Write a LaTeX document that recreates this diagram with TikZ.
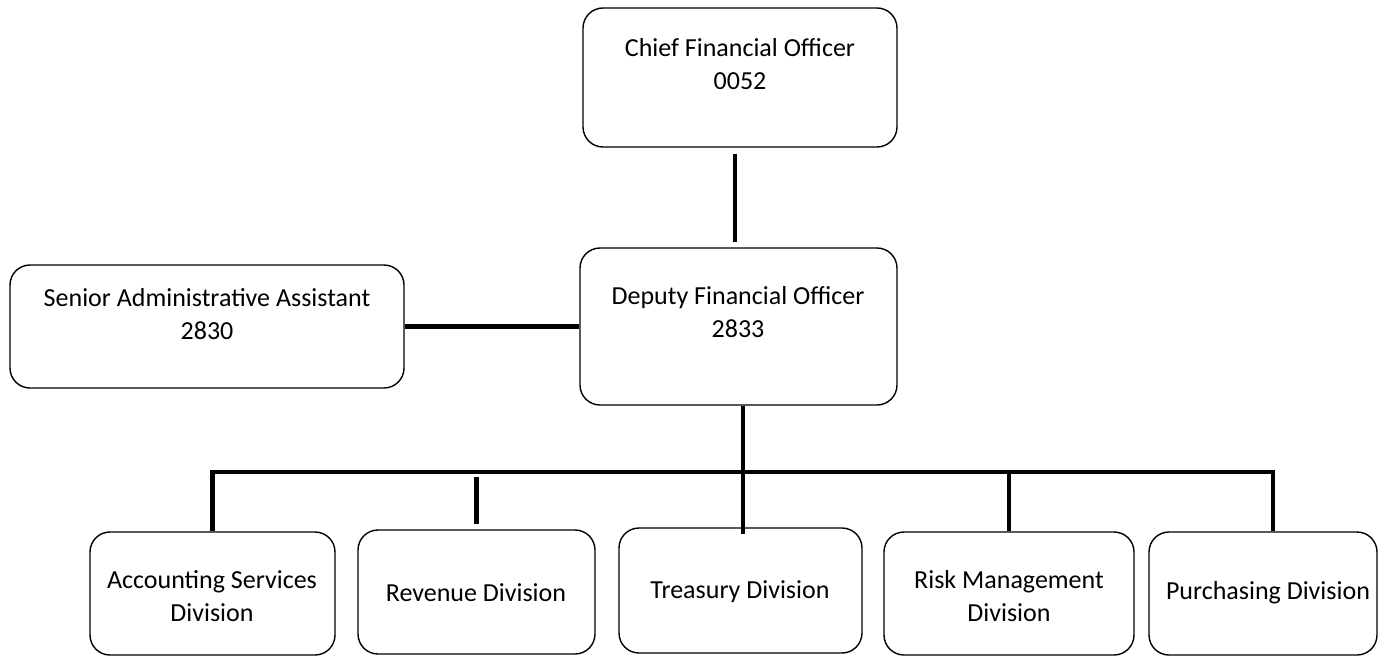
\documentclass[tikz,border=0pt]{standalone}
\usepackage{fontspec}
\setmainfont{Carlito}
\begin{document}
\begin{tikzpicture}[x=1pt,y=-1pt,
  box/.style={draw=black,line width=1.4pt,rounded corners=20pt,inner sep=0pt},
  lbl/.style={align=center,inner sep=0pt,font=\fontsize{26}{33}\selectfont},
  conn/.style={draw=black,line width=4.5pt,line join=miter}]
\useasboundingbox[fill=white] (0,0) rectangle (1379,656);
% boxes
\node[box,minimum width=314pt,minimum height=139pt] (cfo) at (740,77.5) {};
\node[box,minimum width=317pt,minimum height=157pt] (dfo) at (738.5,326.5) {};
\node[box,minimum width=394pt,minimum height=123pt] (saa) at (207,326.5) {};
\node[box,minimum width=245pt,minimum height=123pt] (acc) at (212.5,593.5) {};
\node[box,minimum width=237pt,minimum height=124pt] (rev) at (476.5,592) {};
\node[box,minimum width=243pt,minimum height=125pt] (tre) at (740.5,590.5) {};
\node[box,minimum width=250pt,minimum height=123pt] (risk) at (1009,593.5) {};
\node[box,minimum width=228pt,minimum height=123pt] (pur) at (1263,593.5) {};
% labels
\node[lbl] (tcfo) at (740,64) {Chief Financial Officer\\0052};
\node[lbl] (tdfo) at (738,312) {Deputy Financial Officer\\2833};
\node[lbl] (tsaa) at (207,314) {Senior Administrative Assistant\\2830};
\node[lbl] (tacc) at (212,596) {Accounting Services\\Division};
\node[lbl] (trev) at (476,593) {Revenue Division};
\node[lbl] (ttre) at (740,592) {Treasury Division};
\node[lbl] (trisk) at (1009,596) {Risk Management\\Division};
\node[lbl] (tpur) at (1268,593) {Purchasing Division};
% connectors
\coordinate (bus) at (743,472);
\coordinate (pd) at ([xshift=10pt]pur.north);
\draw[conn,shorten <=6pt,shorten >=5pt] ([xshift=-5pt]cfo.south) -- ([xshift=-3.5pt]dfo.north);
\draw[conn] (saa.east) -- (dfo.west);
\draw[conn] ([xshift=4.5pt]dfo.south) -- ([xshift=2.5pt,yshift=-7pt]tre.north);
\draw[conn] (acc.north) -- (acc.north |- bus) -- (pd |- bus) -- (pd);
\draw[conn,shorten <=5pt,shorten >=5pt] (rev.north |- bus) -- (rev.north);
\draw[conn] (risk.north |- bus) -- (risk.north);
\end{tikzpicture}
\end{document}
